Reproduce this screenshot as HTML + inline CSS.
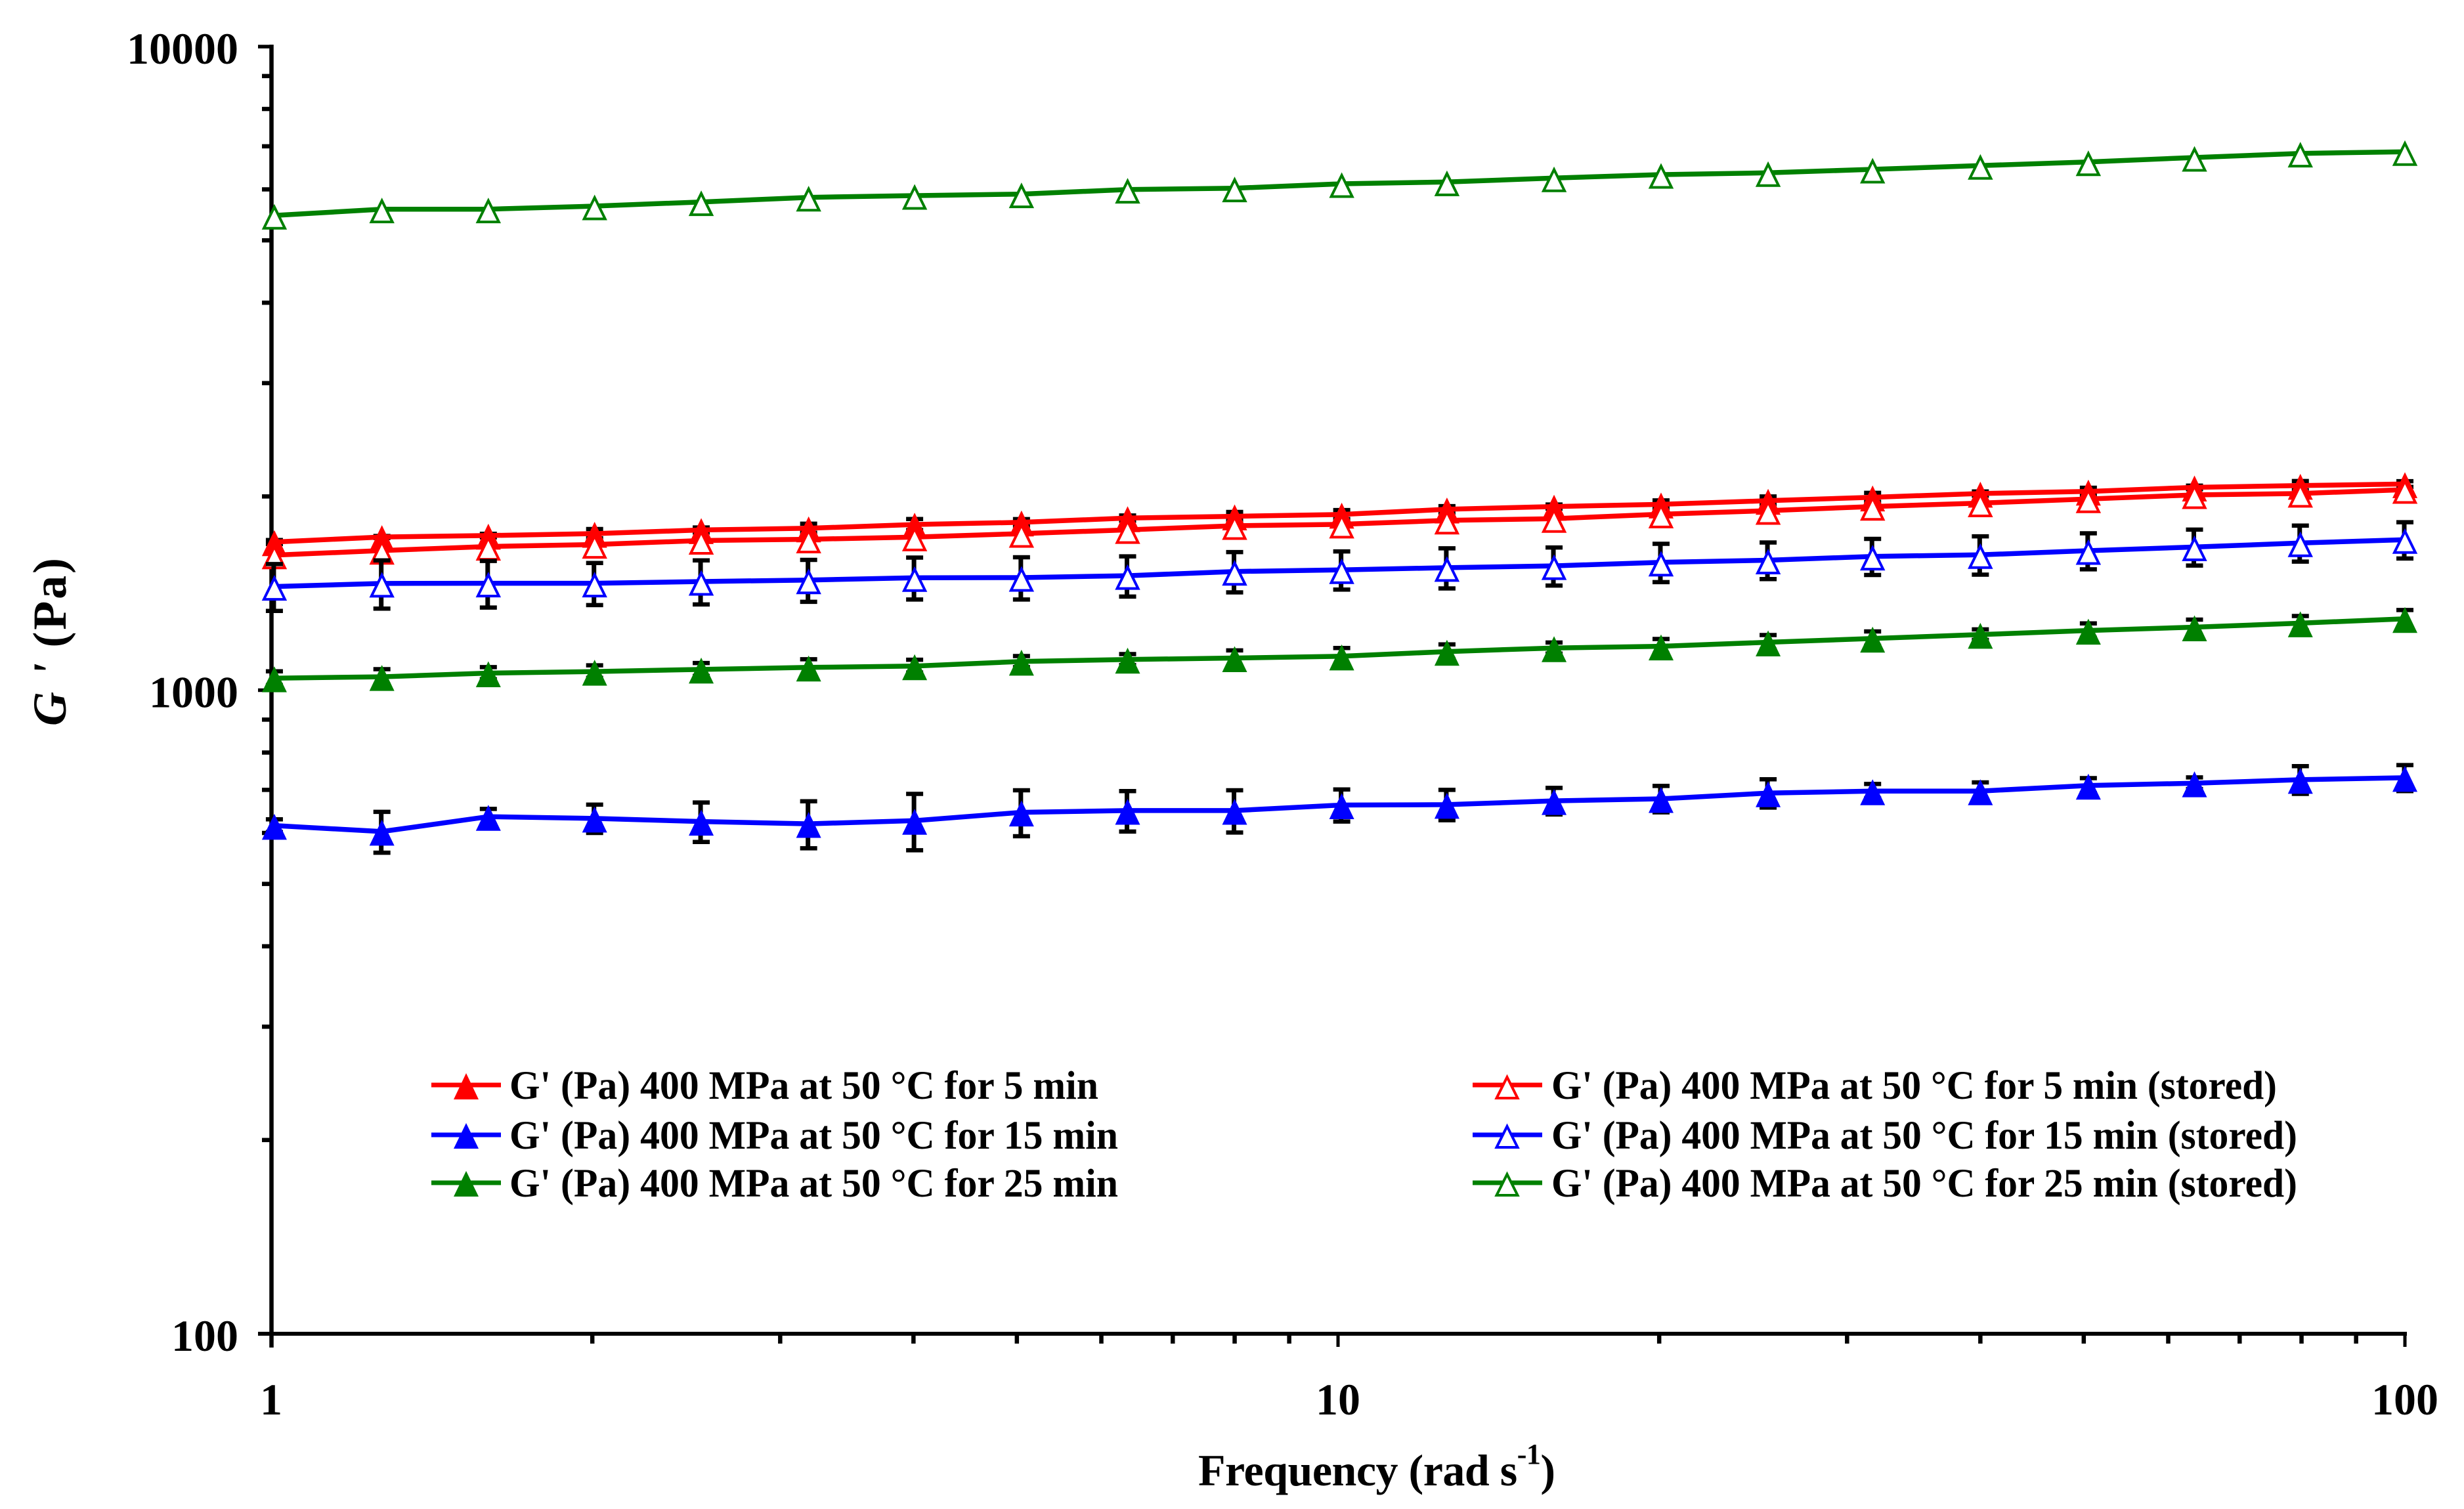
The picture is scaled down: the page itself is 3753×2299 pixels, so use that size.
<!DOCTYPE html>
<html lang="en">
<head>
<meta charset="utf-8">
<title>G' versus frequency</title>
<style>
html,body{margin:0;padding:0;background:#fff;}
svg{display:block;}
text{font-family:"Liberation Serif",serif;font-weight:bold;fill:#000;}
</style>
</head>
<body>
<svg id="chart" xmlns="http://www.w3.org/2000/svg" width="3753" height="2299" viewBox="0 0 3753 2299">
  <rect x="0" y="0" width="3753" height="2299" fill="#fff"/>
  <g id="axes"></g>
  <g id="plot"></g>

  <text x="1825" y="2263" font-size="68" textLength="544">Frequency (rad s<tspan font-size="44" dy="-33">-1</tspan><tspan dy="33">)</tspan></text>
  <text transform="translate(100,1106) rotate(-90)" font-size="72" textLength="256"><tspan font-style="italic">G '</tspan> (Pa)</text>

  <g>
    <g>
      <line x1="657" y1="1653" x2="763" y2="1653" stroke="#ff0000" stroke-width="7"/>
      <polygon points="710,1635 729,1675 691,1675" fill="#ff0000"/>
      <text x="776" y="1674" font-size="61" textLength="897" lengthAdjust="spacingAndGlyphs">G' (Pa) 400 MPa at 50 °C for 5 min</text>
    </g>
    <g>
      <line x1="657" y1="1729" x2="763" y2="1729" stroke="#0000ff" stroke-width="7"/>
      <polygon points="710,1711 729,1750 691,1750" fill="#0000ff"/>
      <text x="776" y="1750" font-size="61" textLength="927" lengthAdjust="spacingAndGlyphs">G' (Pa) 400 MPa at 50 °C for 15 min</text>
    </g>
    <g>
      <line x1="657" y1="1802" x2="763" y2="1802" stroke="#008000" stroke-width="7"/>
      <polygon points="710,1784 729,1823 691,1823" fill="#008000"/>
      <text x="776" y="1823" font-size="61" textLength="927" lengthAdjust="spacingAndGlyphs">G' (Pa) 400 MPa at 50 °C for 25 min</text>
    </g>
    <g>
      <line x1="2243" y1="1653" x2="2349" y2="1653" stroke="#ff0000" stroke-width="7"/>
      <polygon points="2295.5,1641 2311.5,1673 2279.5,1673" fill="#fff" stroke="#ff0000" stroke-width="4"/>
      <text x="2363" y="1674" font-size="61" textLength="1105" lengthAdjust="spacingAndGlyphs">G' (Pa) 400 MPa at 50 °C for 5 min (stored)</text>
    </g>
    <g>
      <line x1="2243" y1="1729" x2="2349" y2="1729" stroke="#0000ff" stroke-width="7"/>
      <polygon points="2295.5,1716 2311.5,1748 2279.5,1748" fill="#fff" stroke="#0000ff" stroke-width="4"/>
      <text x="2363" y="1750" font-size="61" textLength="1136" lengthAdjust="spacingAndGlyphs">G' (Pa) 400 MPa at 50 °C for 15 min (stored)</text>
    </g>
    <g>
      <line x1="2243" y1="1802" x2="2349" y2="1802" stroke="#008000" stroke-width="7"/>
      <polygon points="2295.5,1789 2311.5,1821 2279.5,1821" fill="#fff" stroke="#008000" stroke-width="4"/>
      <text x="2363" y="1823" font-size="61" textLength="1136" lengthAdjust="spacingAndGlyphs">G' (Pa) 400 MPa at 50 °C for 25 min (stored)</text>
    </g>
  </g>
</svg>

<script>
const frequency = [1.007,1.27,1.598,2.01,2.53,3.19,4.01,5.05,6.35,8.00,10.08,12.65,15.94,20.08,25.3,31.7,40.0,50.5,63.5,79.8,100];

const red5 = [1699,1730,1739,1751,1774,1785,1809,1823,1851,1863,1875,1910,1929,1944,1970,1994,2021,2036,2066,2079,2091];
const red5Err = [12,6,11,29,16,29,36,21,17,29,30,22,14,28,30,32,15,27,13,34,21];
const blue15 = [616,603,636,632,625,620,627,646,650,650,663,664,673,678,692,697,697,711,717,726,731];
const blue15Err = [14,44,18,32,44,52,63,53,47,49,38,36,32,32,35,18,22,19,15,36,34];
const green25 = [1044,1049,1063,1069,1077,1085,1090,1108,1116,1122,1129,1148,1163,1170,1187,1203,1220,1238,1253,1271,1291];
const green25Err = [26,29,23,24,25,32,25,22,22,31,34,30,23,31,31,31,23,32,34,33,41];
const red5Stored = [1621,1648,1672,1684,1708,1716,1729,1751,1775,1801,1810,1836,1847,1877,1901,1929,1953,1982,2011,2021,2049];
const blue15Stored = [1449,1465,1466,1466,1475,1483,1495,1496,1506,1529,1538,1550,1560,1580,1592,1614,1623,1647,1669,1693,1713];
const blue15StoredErr = [121,126,122,110,116,111,112,113,108,110,105,111,106,108,104,104,111,106,107,109,111];
const green25Stored = [5465,5590,5590,5652,5736,5831,5868,5900,5998,6026,6121,6160,6248,6326,6366,6446,6533,6619,6724,6825,6863];

const xTickValues = [1,10,100];
const xTickLabels = ['1','10','100'];
const yTickValues = [100,1000,10000];
const yTickLabels = ['100','1000','10000'];
const minorMultipliers = [2,3,4,5,6,7,8,9];

const NS = 'http://www.w3.org/2000/svg';
const axes = document.getElementById('axes');
const plot = document.getElementById('plot');

function xScale(f){ return 413 + 1625 * Math.log10(f); }
function yScale(v){ return 71 + 980.5 * (4 - Math.log10(v)); }

function make(tag, parent, props){
  const el = document.createElementNS(NS, tag);
  for (const k in props) el.setAttribute(k, props[k]);
  parent.appendChild(el);
  return el;
}

// axis lines
const yAxisLine = make('line', axes, {x1:413.5, y1:68, x2:413.5, y2:2053, stroke:'#000', 'stroke-width':6.5});


const xAxisLine = make('line', axes, {x1:393, y1:2032, x2:3666, y2:2032, stroke:'#000', 'stroke-width':6});



// y ticks
yTickValues.forEach(function(v, i){
  const y = yScale(v);
  const t = make('line', axes, {x1:393, y1:y, x2:413, y2:y, stroke:'#000', 'stroke-width':5.5});
  
  
  const l = make('text', axes, {x:363, y:y + 26, 'font-size':68, 'text-anchor':'end'});
  
  
  l.textContent = yTickLabels[i];
  if (i < yTickValues.length - 1) {
    minorMultipliers.forEach(function(m){
      const ym = yScale(v * m);
      const tm = make('line', axes, {x1:399, y1:ym, x2:413, y2:ym, stroke:'#000', 'stroke-width':6.5});
      
      
    });
  }
});

// x ticks
xTickValues.forEach(function(v, i){
  const x = xScale(v);
  const t = make('line', axes, {x1:x, y1:2032, x2:x, y2:2052, stroke:'#000', 'stroke-width':5});
  
  
  const l = make('text', axes, {x:x, y:2155, 'font-size':68, 'text-anchor':'middle'});
  
  
  l.textContent = xTickLabels[i];
  if (i < xTickValues.length - 1) {
    minorMultipliers.forEach(function(m){
      const xm = xScale(v * m);
      const tm = make('line', axes, {x1:xm, y1:2032, x2:xm, y2:2047, stroke:'#000', 'stroke-width':6.5});
      
      
    });
  }
});

function drawSeries(name, values, errors, color, open){
  const g = make('g', plot, {});
  
  

  if (errors) {
    values.forEach(function(v, i){
      const x = xScale(frequency[i]);
      const top = yScale(v + errors[i]);
      const bottom = yScale(v - errors[i]);
      const stem = make('line', g, {x1:x - 1, y1:top, x2:x - 1, y2:bottom, stroke:'#000', 'stroke-width':7});
      
      
      const capTop = make('line', g, {x1:x - 13, y1:top, x2:x + 13, y2:top, stroke:'#000', 'stroke-width':6.5});
      
      
      const capBottom = make('line', g, {x1:x - 13, y1:bottom, x2:x + 13, y2:bottom, stroke:'#000', 'stroke-width':6.5});
      
      
    });
  }

  const pts = values.map(function(v, i){ return xScale(frequency[i]).toFixed(1) + ',' + yScale(v).toFixed(1); }).join(' ');
  const line = make('polyline', g, {points:pts, fill:'none', stroke:color, 'stroke-width':7.5, 'stroke-linejoin':'round'});
  
  

  values.forEach(function(v, i){
    const x = xScale(frequency[i]);
    const y = yScale(v);
    let marker;
    if (open) {
      marker = make('polygon', g, {points:x + ',' + (y - 13) + ' ' + (x + 16) + ',' + (y + 19.5) + ' ' + (x - 16) + ',' + (y + 19.5), fill:'#fff', stroke:color, 'stroke-width':4});
    } else {
      marker = make('polygon', g, {points:x + ',' + (y - 18) + ' ' + (x + 19) + ',' + (y + 21.5) + ' ' + (x - 19) + ',' + (y + 21.5), fill:color});
    }
    
    
  });
}

drawSeries('5-min', red5, red5Err, '#ff0000', false);
drawSeries('15-min', blue15, blue15Err, '#0000ff', false);
drawSeries('25-min', green25, green25Err, '#008000', false);
drawSeries('5-min-stored', red5Stored, null, '#ff0000', true);
drawSeries('15-min-stored', blue15Stored, blue15StoredErr, '#0000ff', true);
drawSeries('25-min-stored', green25Stored, null, '#008000', true);
</script>
</body>
</html>
